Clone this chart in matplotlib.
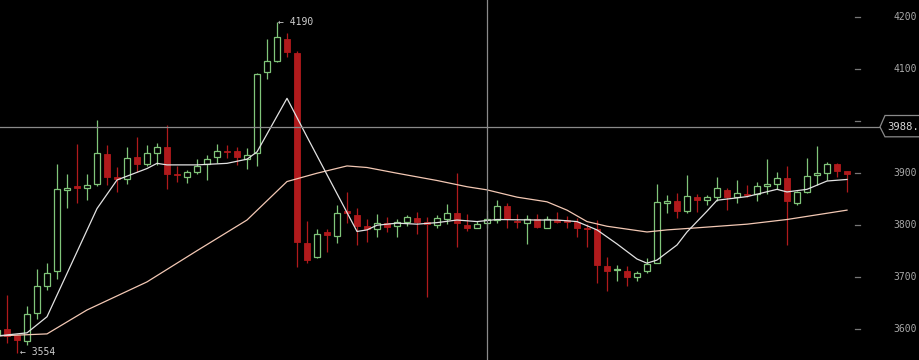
import numpy as np
import matplotlib
matplotlib.use("Agg")
import matplotlib.pyplot as plt
from matplotlib.patches import Polygon

# candle data, index -1 is the partially visible candle at the left edge
opens = [3588, 3599, 3587, 3576, 3630, 3683, 3710, 3867, 3873, 3870, 3878, 3936, 3891, 3887, 3930,
         3917, 3938, 3950, 3897, 3892, 3902, 3917, 3930, 3941, 3942, 3926, 3937, 4094, 4115, 4157,
         4130, 3764, 3737, 3785, 3779, 3825, 3819, 3797, 3791, 3803, 3797, 3806, 3812, 3806, 3799,
         3811, 3823, 3799, 3793, 3803, 3809, 3836, 3807, 3804, 3810, 3794, 3808, 3808, 3805, 3793,
         3792, 3721, 3712, 3711, 3700, 3711, 3727, 3842, 3846, 3827, 3853, 3848, 3854, 3867, 3854,
         3859, 3859, 3875, 3878, 3889, 3842, 3862, 3896, 3899, 3916, 3903]
highs = [3600, 3665, 3589, 3644, 3714, 3727, 3917, 3897, 3955, 3897, 4001, 3953, 3910, 3949, 3969,
         3953, 3958, 3992, 3912, 3905, 3926, 3934, 3956, 3953, 3950, 3947, 4092, 4158, 4190, 4168,
         4134, 3808, 3791, 3791, 3838, 3863, 3832, 3811, 3821, 3814, 3810, 3819, 3825, 3814, 3818,
         3840, 3899, 3821, 3808, 3828, 3847, 3842, 3821, 3819, 3821, 3816, 3825, 3817, 3812, 3801,
         3809, 3737, 3723, 3721, 3711, 3735, 3878, 3857, 3860, 3896, 3859, 3857, 3891, 3870, 3886,
         3876, 3883, 3926, 3901, 3913, 3865, 3928, 3951, 3921, 3918, 3904]
lows = [3585, 3572, 3554, 3569, 3619, 3674, 3695, 3832, 3842, 3847, 3875, 3876, 3863, 3878, 3902,
        3912, 3915, 3868, 3883, 3880, 3897, 3885, 3918, 3928, 3915, 3908, 3912, 4080, 4112, 4122,
        3718, 3727, 3735, 3748, 3765, 3804, 3761, 3767, 3776, 3785, 3777, 3797, 3783, 3660, 3793,
        3801, 3758, 3787, 3793, 3793, 3804, 3793, 3793, 3762, 3793, 3794, 3804, 3793, 3776, 3758,
        3688, 3673, 3692, 3682, 3692, 3708, 3726, 3823, 3812, 3822, 3825, 3838, 3846, 3828, 3842,
        3854, 3846, 3859, 3868, 3761, 3838, 3861, 3876, 3886, 3892, 3863]
closes = [3598, 3586, 3579, 3628, 3682, 3708, 3868, 3870, 3871, 3877, 3937, 3891, 3887, 3928, 3916,
          3937, 3949, 3897, 3895, 3901, 3913, 3926, 3942, 3939, 3931, 3934, 4089, 4115, 4160, 4133,
          3766, 3733, 3782, 3781, 3822, 3823, 3798, 3791, 3803, 3796, 3806, 3814, 3806, 3801, 3812,
          3823, 3803, 3794, 3801, 3810, 3836, 3810, 3805, 3810, 3796, 3810, 3806, 3806, 3793, 3791,
          3722, 3710, 3715, 3700, 3708, 3724, 3843, 3845, 3827, 3855, 3848, 3853, 3870, 3854, 3860,
          3857, 3874, 3877, 3889, 3846, 3862, 3894, 3898, 3916, 3904, 3897]

# moving average lines (candle index, price)
fast_idx = [-1, 2, 4, 9, 11, 14, 15, 16, 19, 22, 24, 25, 28, 30, 35, 36, 37, 39, 41, 43, 45, 47,
            49, 53, 55, 57, 59, 61, 63, 64, 65, 67, 68, 70, 71, 74, 77, 78, 80, 82, 84]
fast_ma = [3586, 3592, 3623, 3831, 3886, 3908, 3918, 3915, 3915, 3918, 3926, 3940, 4043, 3969,
           3787, 3790, 3799, 3803, 3801, 3804, 3809, 3806, 3810, 3809, 3809, 3806, 3790, 3763,
           3734, 3726, 3732, 3761, 3786, 3826, 3847, 3854, 3868, 3863, 3868, 3884, 3887]
slow_idx = [-1, 4, 8, 14, 19, 24, 28, 31, 34, 36, 39, 43, 46, 48, 51, 54, 56, 58, 60, 64, 66,
            69, 74, 78, 81, 84]
slow_ma = [3586, 3590, 3636, 3690, 3750, 3809, 3883, 3899, 3913, 3910, 3899, 3885, 3873, 3867,
           3853, 3844, 3828, 3806, 3797, 3786, 3790, 3794, 3801, 3810, 3819, 3828]

price_ticks = [3600, 3700, 3800, 3900, 4000, 4100, 4200]
cursor_price = 3988
cursor_idx = 48
hi_label = (27, 4190)
lo_label = (1, 3554)

UP = "#80c57a"
DOWN = "#b01a1c"
TXT = "#a8a8a8"


def draw_candles(ax):
    idx = np.arange(-1, len(opens) - 1)
    o = np.array(opens, float)
    c = np.array(closes, float)
    h = np.array(highs, float)
    l = np.array(lows, float)
    up = c >= o
    bottom = np.minimum(o, c)
    height = np.maximum(np.abs(c - o), 2.5)

    for mask, col in ((up, UP), (~up, DOWN)):
        ax.vlines(idx[mask], l[mask], h[mask], color=col, lw=0.9, zorder=2)
    ax.bar(idx[up], height[up], bottom=bottom[up], width=0.62, facecolor="black",
           edgecolor=UP, linewidth=0.9, zorder=3)
    ax.bar(idx[~up], height[~up], bottom=bottom[~up], width=0.62, facecolor=DOWN,
           edgecolor=DOWN, linewidth=0.6, zorder=3)


def main():
    fig = plt.figure(figsize=(9.2, 3.6), dpi=100, facecolor="black")
    ax = fig.add_axes([0, 0, 1, 1], facecolor="black")
    ax.set_xlim(-0.7, 91.3)
    ax.set_ylim(3539.8, 4232.1)
    ax.axis("off")

    draw_candles(ax)
    ax.plot(slow_idx, slow_ma, color="#f3c8b4", lw=0.9, zorder=4)
    ax.plot(fast_idx, fast_ma, color="#e2e2e2", lw=0.9, zorder=5)

    # price scale on the right (4000 sits under the cursor box)
    for p in price_ticks:
        ax.plot([84.8, 85.3], [p, p], color="#777777", lw=0.9, zorder=2)
        if abs(p - cursor_price) < 40:
            continue
        ax.text(91.0, p, str(p), color=TXT, fontsize=7, family="DejaVu Sans Mono",
                ha="right", va="center", zorder=2)

    # crosshair
    ax.axvline(cursor_idx, color="#8a8a8a", lw=0.9, zorder=6)
    ax.plot([-0.7, 87.3], [cursor_price, cursor_price], color="#8a8a8a", lw=0.9, zorder=6)
    box = Polygon([[87.3, cursor_price], [87.8, 4010], [91.5, 4010], [91.5, 3969],
                   [87.8, 3969]], closed=True, facecolor="black", edgecolor="#8a8a8a",
                  lw=0.9, zorder=7)
    ax.add_patch(box)
    ax.text(88.0, cursor_price, f"{cursor_price}.", color="#d8d8d8", fontsize=7.6,
            family="DejaVu Sans Mono", ha="left", va="center", zorder=8)

    # high / low markers
    ax.text(hi_label[0] + 0.1, hi_label[1], f"\u2190 {hi_label[1]}", color="#cfcfcf",
            fontsize=7, family="DejaVu Sans Mono", ha="left", va="center", zorder=8)
    ax.text(lo_label[0] + 0.3, lo_label[1] + 1, f"\u2190 {lo_label[1]}", color="#cfcfcf",
            fontsize=7, family="DejaVu Sans Mono", ha="left", va="center", zorder=8)

    fig.savefig("out.png", dpi=100, facecolor="black")


if __name__ == "__main__":
    main()
